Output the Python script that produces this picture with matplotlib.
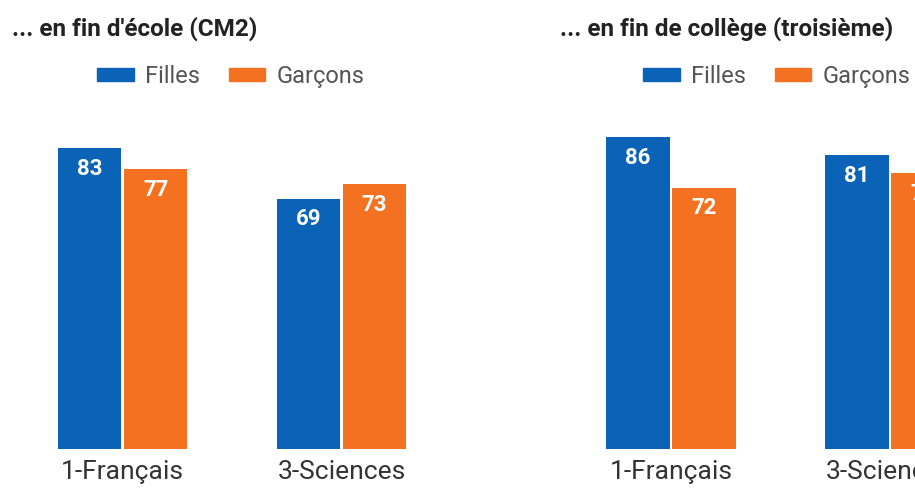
import matplotlib.pyplot as plt
from matplotlib.patches import Patch

# Data
subjects = ["1-Français", "3-Sciences"]
panels = ["... en fin d'école (CM2)", "... en fin de collège (troisième)"]
filles = [[83, 69], [86, 81]]
garcons = [[77, 73], [72, 76]]

blue = "#0A63B6"
orange = "#F37121"

plt.rcParams['font.family'] = ['Roboto', 'DejaVu Sans']

W, H = 915, 488
fig = plt.figure(figsize=(W / 100, H / 100), dpi=100)

bar_w = 0.292
off = 0.1507
ax_lefts = [13, 561.5]   # pixels
title_x = [12, 560]
legend_x = [97, 643]

for k in range(2):
    ax = fig.add_axes([ax_lefts[k] / W, 39 / H, 438 / W, 363 / H])
    x = range(len(subjects))
    b1 = ax.bar([i - off for i in x], filles[k], width=bar_w, color=blue)
    b2 = ax.bar([i + off for i in x], garcons[k], width=bar_w, color=orange)
    for bars in (b1, b2):
        for r in bars:
            ax.annotate(f"{r.get_height():.0f}",
                        (r.get_x() + r.get_width() / 2, r.get_height()),
                        xytext=(0, -15), textcoords="offset points",
                        ha="center", va="center", color="white",
                        fontsize=16, fontweight="bold")
    ax.set_xlim(-0.5, 1.5)
    ax.set_ylim(0, 100)
    ax.set_xticks(list(x))
    ax.set_xticklabels(subjects, fontsize=19, color="#333333")
    ax.tick_params(length=0, pad=8)
    ax.set_yticks([])
    for s in ax.spines.values():
        s.set_visible(False)

    fig.text(title_x[k] / W, 1 - 29 / H, panels[k], fontsize=17.5,
             fontweight="bold", color="#222222", ha="left", va="center")
    handles = [Patch(color=blue, label="Filles"), Patch(color=orange, label="Garçons")]
    fig.legend(handles=handles, loc="center left",
               bbox_to_anchor=(legend_x[k] / W, 1 - 76 / H),
               ncol=2, frameon=False, fontsize=17, labelcolor="#555555",
               borderpad=0, borderaxespad=0, handlelength=1.55,
               handleheight=0.48, handletextpad=0.5, columnspacing=1.2)

fig.savefig("out.png", dpi=100)
